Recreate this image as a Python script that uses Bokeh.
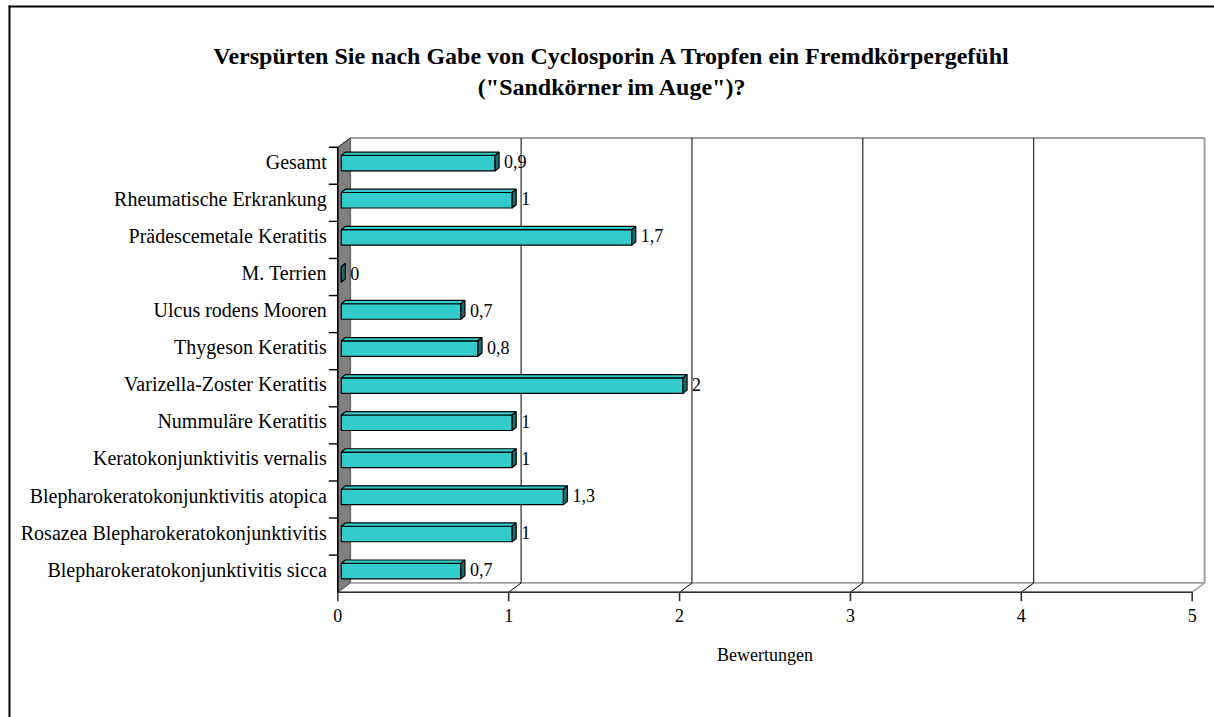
from bokeh.plotting import figure
from bokeh.models import ColumnDataSource, Range1d
from bokeh.embed import file_html
from bokeh.resources import INLINE
from bokeh.core.properties import value

# ---------------- data ----------------
title_lines = ["Verspürten Sie nach Gabe von Cyclosporin A Tropfen ein Fremdkörpergefühl",
               '("Sandkörner im Auge")?']
categories = ["Blepharokeratokonjunktivitis sicca",
              "Rosazea Blepharokeratokonjunktivitis",
              "Blepharokeratokonjunktivitis atopica",
              "Keratokonjunktivitis vernalis",
              "Nummuläre Keratitis",
              "Varizella-Zoster Keratitis",
              "Thygeson Keratitis",
              "Ulcus rodens Mooren",
              "M. Terrien",
              "Prädescemetale Keratitis",
              "Rheumatische Erkrankung",
              "Gesamt"]
values = [0.7, 1.0, 1.3, 1.0, 1.0, 2.0, 0.8, 0.7, 0.0, 1.7, 1.0, 0.9]
value_labels = ["0,7", "1", "1,3", "1", "1", "2", "0,8", "0,7", "0", "1,7", "1", "0,9"]
x_ticks = [0, 1, 2, 3, 4, 5]
x_tick_labels = ["0", "1", "2", "3", "4", "5"]
x_title = "Bewertungen"

# ---------------- layout ----------------
W, H = 1214, 717
X0, SX = 337.3, 170.88      # picture x of value 0, px per unit
Y0, SY = 591.7, 37.08       # picture y of front floor, px per category slot
NC = len(categories)
XMAX = x_ticks[-1]
FONT = "Liberation Serif"

def px(d):
    return d / SX

def py(d):
    return d / SY

def page_x(x):
    return (x - X0) / SX

def page_y(y):
    return (Y0 - y) / SY

p = figure(width=W, height=H, output_backend="svg", toolbar_location=None,
           x_axis_location=None, y_axis_location=None, min_border=0,
           x_range=Range1d(page_x(0), page_x(W)),
           y_range=Range1d(page_y(H), page_y(0)))
p.grid.visible = False
p.outline_line_color = None
p.background_fill_color = "white"
p.border_fill_color = "white"

DX, DY = 12.4, 9.2   # wall depth in px

# back plane
p.patch([px(DX), XMAX + px(DX), XMAX + px(DX), px(DX)],
        [py(DY), py(DY), NC + py(DY), NC + py(DY)],
        fill_color="white", line_color="#a0a0a0", line_width=2)
# floor
p.patch([0, XMAX, XMAX + px(DX), px(DX)], [0, 0, py(DY), py(DY)],
        fill_color="white", line_color="#a0a0a0", line_width=1.5)
# grid lines on back wall and floor
gx = x_ticks[1:-1]
p.segment(x0=[k + px(DX) for k in gx], y0=[py(DY)] * len(gx),
          x1=[k + px(DX) for k in gx], y1=[NC + py(DY)] * len(gx),
          line_color="black", line_width=1)
p.segment(x0=gx, y0=[0] * len(gx), x1=[k + px(DX) for k in gx], y1=[py(DY)] * len(gx),
          line_color="black", line_width=1)
# left wall
p.patch([0, px(DX), px(DX), 0], [0, py(DY), NC + py(DY), NC],
        fill_color="#808080", line_color="#555555", line_width=1)
p.segment(x0=[0], y0=[NC], x1=[px(DX)], y1=[NC + py(DY)], line_color="#333333", line_width=1)

# axes lines and ticks
p.segment(x0=[0], y0=[0], x1=[XMAX], y1=[0], line_color="#333333", line_width=1.6)
p.segment(x0=[0], y0=[0], x1=[0], y1=[NC], line_color="black", line_width=1.6)
p.segment(x0=x_ticks, y0=[0] * len(x_ticks), x1=x_ticks, y1=[-py(9)] * len(x_ticks),
          line_color="#333333", line_width=1.6)
bounds = list(range(1, NC + 1))
p.segment(x0=[0] * len(bounds), y0=bounds, x1=[-px(9)] * len(bounds), y1=bounds,
          line_color="black", line_width=1.4)

# bars
OX, OY = 3.5, 2.6
BDX, BDY = 4.0, 3.3
HH = 7.75
front_l, front_r, front_b, front_t = [], [], [], []
top_xs, top_ys, side_xs, side_ys = [], [], [], []
for i, v in enumerate(values):
    yc = i + 0.5 + py(OY)
    b, t = yc - py(HH), yc + py(HH)
    l, r = px(OX), v + px(OX)
    front_l.append(l); front_r.append(r); front_b.append(b); front_t.append(t)
    top_xs.append([l, r, r + px(BDX), l + px(BDX)])
    top_ys.append([t, t, t + py(BDY), t + py(BDY)])
    side_xs.append([r, r, r + px(BDX), r + px(BDX)])
    side_ys.append([b, t, t + py(BDY), b + py(BDY)])

p.quad(left=front_l, right=front_r, bottom=front_b, top=front_t,
       fill_color="#33CCCC", line_color="black", line_width=1.2)
p.patches(top_xs, top_ys, fill_color="#33CCCC", line_color="black", line_width=1.2)
p.patches(side_xs, side_ys, fill_color="#1E6E6E", line_color="black", line_width=1.2)

# value labels
src_v = ColumnDataSource(dict(
    x=[v + px(OX + BDX + 5) for v in values],
    y=[i + 0.5 + py(4) for i in range(NC)],
    t=value_labels))
p.text(x="x", y="y", text="t", source=src_v, text_font=value(FONT),
       text_font_size="18px", text_align="left", text_baseline="middle", text_color="black")

# category labels
src_c = ColumnDataSource(dict(x=[-px(11)] * NC, y=[i + 0.5 + py(4) for i in range(NC)],
                              t=categories))
p.text(x="x", y="y", text="t", source=src_c, text_font=value(FONT),
       text_font_size="20px", text_align="right", text_baseline="middle", text_color="black")

# x tick labels
p.text(x=x_ticks, y=[-py(23)] * len(x_ticks), text=x_tick_labels, text_font=value(FONT),
       text_font_size="18px", text_align="center", text_baseline="middle", text_color="black")
p.text(x=[XMAX / 2], y=[-py(63)], text=[x_title], text_font=value(FONT),
       text_font_size="18px", text_align="center", text_baseline="middle", text_color="black")

# title
tx = page_x(612)
p.text(x=[tx, tx], y=[page_y(55), page_y(86)], text=title_lines,
       text_font=value(FONT), text_font_size="24px", text_font_style="bold",
       text_align="center", text_baseline="alphabetic", text_color="black")

# chart area border (left and top edges visible; right/bottom lie beyond the picture)
p.quad(left=[page_x(8), page_x(8)], right=[page_x(W), page_x(10)],
       bottom=[page_y(7), page_y(H)], top=[page_y(5), page_y(5)],
       fill_color="black", line_color=None)

open("out.html", "w").write(file_html(p, INLINE))
